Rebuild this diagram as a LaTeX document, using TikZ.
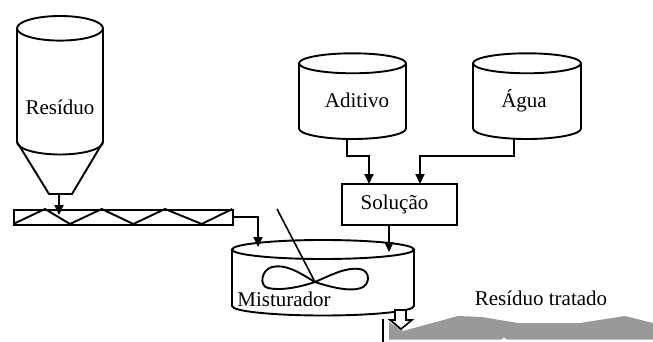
\documentclass[tikz,border=0pt]{standalone}
\usepackage{fontspec}
\setmainfont{Liberation Serif}
\usetikzlibrary{arrows.meta}
\definecolor{pilegray}{RGB}{153,153,153}
\tikzset{
  line/.style={line width=1.9pt, line join=miter},
  feed/.style={line, -{Triangle[length=10pt,width=9pt]}},
  lbl/.style={font=\fontsize{21}{25}\selectfont, inner sep=0pt, anchor=base},
  boxnode/.style={line, draw, inner sep=0pt, minimum width=115, minimum height=41,
    font=\fontsize{21}{25}\selectfont},
  screwbox/.style={line, draw, inner sep=0pt, minimum width=219, minimum height=15, anchor=north west},
}
\begin{document}
\begin{tikzpicture}[x=1pt, y=-1pt]
\useasboundingbox (0,0) rectangle (653,342);

% ---- residue silo with conical hopper ----
\draw[line] (17,28.3) -- (17,142) arc[start angle=180, end angle=0, x radius=43, y radius=12.5] -- (103,28.3);
\draw[line] (60,28.3) ellipse[x radius=43, y radius=12.3];
\draw[line] (17,142) -- (49,194) -- (72,194) -- (103,142);
\node[lbl] (silolbl) at (60,115) {Resíduo};
\coordinate (siloout) at (59,194);

% ---- screw conveyor ----
\node[screwbox] (screw) at (13,209) {};
\draw[line] (13.3,224) -- (45,209) -- (70,224) -- (101.7,209) -- (133.3,224) -- (165,209) -- (201.7,224) -- (232.3,209);
\coordinate (screwin) at (59,215);
\coordinate (screwout) at (232,217);
\draw[feed] (siloout) -- (screwin);

% ---- additive and water tanks ----
\draw[line] (299,63.3) -- (299,128.5) arc[start angle=180, end angle=0, x radius=53.5, y radius=10.5] -- (406,63.3);
\draw[line] (352.5,63.3) ellipse[x radius=53.5, y radius=10];
\node[lbl] (adilbl) at (357,108) {Aditivo};
\coordinate (adiout) at (347,139);

\draw[line] (473,63.3) -- (473,128.5) arc[start angle=180, end angle=0, x radius=54, y radius=10.5] -- (581,63.3);
\draw[line] (527,63.3) ellipse[x radius=54, y radius=10];
\node[lbl] (agualbl) at (524,108) {Água};
\coordinate (aguaout) at (514,139);

% ---- solution vessel ----
\node[boxnode] (sol) at (399.5,204.5) {Solução\hspace*{10pt}};
\coordinate (solin1) at (369,184);
\coordinate (solin2) at (420,184);
\coordinate (solout) at (389,225);
\draw[feed] (adiout) -- ++(0,17) -| (solin1);
\draw[feed] (aguaout) -- ++(0,17) -| (solin2);

% ---- mixer ----
\draw[line] (232,249.5) -- (232,306) arc[start angle=180, end angle=0, x radius=91, y radius=9.5] -- (414,249.5);
\draw[line] (323,249.5) ellipse[x radius=91, y radius=9.5];
\coordinate (mixin1) at (258,247);
\coordinate (mixin2) at (389,252);
\draw[feed] (screwout) -| (mixin1);
\draw[feed] (solout) -- (mixin2);

% agitator shaft and impeller
\coordinate (hub) at (315,282);
\draw[line width=1.6pt] (277,209) -- (hub);
\draw[line] (hub) .. controls (297,271) and (285,264) .. (272,267)
  .. controls (261,270) and (259,286) .. (268,288)
  .. controls (281,291) and (300,287) .. (hub)
  .. controls (330,287) and (350,292) .. (361,288)
  .. controls (370,285) and (371,271) .. (360,269)
  .. controls (346,267) and (331,275) .. (hub);
\node[lbl] (mixlbl) at (284,306) {Misturador};

% ---- discharge and treated residue pile ----
\fill[pilegray] (389,322) -- (403,331) -- (458,316) -- (482,317) -- (518,323) -- (580,323)
  -- (625,316) -- (653,323) -- (653,339.5) -- (507,339.5) -- (504,337.5) -- (501,339.5)
  -- (389,339.5) -- cycle;
\draw[line width=1.6pt, fill=white] (395,310) -- (406,310) -- (406,320) -- (412,320) -- (401,329)
  -- (390,320) -- (395,320) -- cycle;
\coordinate (dropA) at (383,319);
\coordinate (dropB) at (383,342);
\draw[line width=1.4pt] (dropA) -- (dropB);
\node[lbl] (pilelbl) at (541,305) {Resíduo tratado};
\end{tikzpicture}
\end{document}
